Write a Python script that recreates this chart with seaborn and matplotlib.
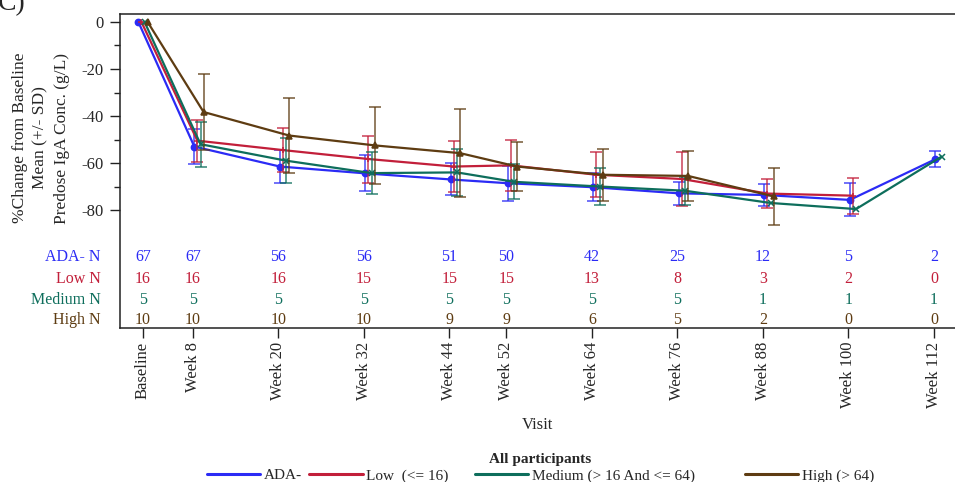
import numpy as np
import pandas as pd
import matplotlib
matplotlib.use("Agg")
import matplotlib.pyplot as plt
import matplotlib.transforms as mtransforms
from matplotlib.lines import Line2D
import seaborn as sns

# visits (nominal study week used for the x scale, Baseline = Day 1)
visits = ['Baseline', 'Week 8', 'Week 20', 'Week 32', 'Week 44', 'Week 52',
          'Week 64', 'Week 76', 'Week 88', 'Week 100', 'Week 112']
visit_week = [1, 8, 20, 32, 44, 52, 64, 76, 88, 100, 112]

groups = ['ADA-', 'Low', 'Medium', 'High']
legend_labels = ['ADA-', 'Low  (<= 16)', 'Medium (> 16 And <= 64)', 'High (> 64)']
n_labels = ['ADA- N', 'Low N', 'Medium N', 'High N']

# mean % change from baseline
ada_mean = [0, -53, -61.5, -64.4, -67, -68.6, -70.3, -72.9, -73.6, -75.7, -58.4]
low_mean = [0, -50.5, -54.5, -58.3, -61.5, -61, -65, -66.8, -73, -73.9, np.nan]
med_mean = [0, -52, -59, -64.3, -64, -68, -70, -71.8, -77, -79.6, -57.3]
high_mean = [0, -38.3, -48.3, -52.5, -55.8, -61.5, -65, -65.5, -74.2, np.nan, np.nan]

# SD (not shown at baseline or where N < 2)
ada_sd = [np.nan, 7.5, 7, 7.7, 6.8, 7.4, 6, 5, 4.6, 7, 3.5]
low_sd = [np.nan, 9, 9.5, 10, 11, 11, 9.5, 11.4, 6.3, 7.6, np.nan]
med_sd = [np.nan, 9.5, 9.5, 9, 10, 7.5, 8, 6, np.nan, np.nan, np.nan]
high_sd = [np.nan, 16.3, 16, 16.3, 18.7, 10.5, 11, 10.7, 12.2, np.nan, np.nan]

# number of participants
ada_n = [67, 67, 56, 56, 51, 50, 42, 25, 12, 5, 2]
low_n = [16, 16, 16, 15, 15, 15, 13, 8, 3, 2, 0]
med_n = [5, 5, 5, 5, 5, 5, 5, 5, 1, 1, 1]
high_n = [10, 10, 10, 10, 9, 9, 6, 5, 2, 0, 0]

means = [ada_mean, low_mean, med_mean, high_mean]
sds = [ada_sd, low_sd, med_sd, high_sd]
ns = [ada_n, low_n, med_n, high_n]

colors = ['#2b2bf5', '#c21f3a', '#0e6e5c', '#5e3c12']
markers = ['o', '+', 'x', '^']
dodge = [-0.65, -0.22, 0.22, 0.65]
# extra gap after each legend entry (the original uses fixed column widths)
legend_pad = [0, 5, 11, 0]

sns.set_style('ticks')
plt.rcParams['font.family'] = ['Liberation Serif', 'DejaVu Serif']

fig = plt.figure(figsize=(9.55, 4.82), dpi=100)
ax = fig.add_axes([120 / 955, 1 - 328 / 482, 835 / 955, 314 / 482])

# long table for seaborn
rows = []
weeks = np.array(visit_week, dtype=float)
for g, m, s, d in zip(groups, means, sds, dodge):
    xpos = np.where(weeks == weeks[0], weeks, weeks + 0.85) + d
    for v, x, mv, sv in zip(visits, xpos, m, s):
        rows.append({'group': g, 'visit': v, 'x': x, 'mean': mv, 'sd': sv})
df = pd.DataFrame(rows).dropna(subset=['mean'])

for g, c, mk in zip(groups, colors, markers):
    sub = df[df['group'] == g]
    sns.lineplot(data=sub, x='x', y='mean', color=c, marker=mk,
                 estimator=None, linewidth=1.6, markersize=4.5,
                 markeredgewidth=1.1, markeredgecolor=c, ax=ax)
    se = sub[sub['sd'].notna()]
    ax.errorbar(se['x'], se['mean'], yerr=se['sd'], fmt='none',
                ecolor=c, elinewidth=1.1, capsize=4, capthick=1.1, alpha=0.85)

ax.set_xlim(-2.23, 114.96)
ax.set_ylim(-130.2, 3.4)
ax.set_xticks(visit_week)
ax.set_xticklabels(visits, rotation=90, fontsize=12)
ax.set_yticks([0, -20, -40, -60, -80])
ax.set_yticklabels(['0', '-20', '-40', '-60', '-80'], fontsize=12)
ax.set_yticks([-10, -30, -50, -70], minor=True)
ax.tick_params(axis='y', which='major', length=7, width=1, pad=5, color='#222222')
ax.tick_params(axis='y', which='minor', length=4, width=1, color='#222222')
ax.tick_params(axis='x', length=7, width=1, pad=3, color='#222222')

for side in ['left', 'bottom', 'top']:
    ax.spines[side].set_color('#222222')
    ax.spines[side].set_linewidth(1.1)
ax.spines['right'].set_visible(False)

ax.set_ylabel('%Change from Baseline\nMean (+/- SD)\nPredose IgA Conc. (g/L)',
              fontsize=12.5, linespacing=1.42, va='center')
ax.yaxis.set_label_coords(-0.095, 0.605)
ax.set_xlabel('Visit', fontsize=12, va='center')
ax.xaxis.set_label_coords(0.5, -0.309)

# N table inside the bottom of the axes
trans = mtransforms.blended_transform_factory(ax.transData, ax.transAxes)
row_y = [0.226, 0.156, 0.089, 0.025]
for lab, nvals, c, yy in zip(n_labels, ns, colors, row_y):
    ax.text(-0.023, yy, lab, transform=ax.transAxes, ha='right', va='center',
            fontsize=11.5, color=c)
    for w, nv in zip(visit_week, nvals):
        ax.text(w, yy, str(nv), transform=trans, ha='center', va='center',
                fontsize=11.5, color=c)

handles = [Line2D([], [], color=c, linewidth=2.2) for c in colors]
labels = [lab + ' ' * p for lab, p in zip(legend_labels, legend_pad)]
leg = fig.legend(handles, labels, loc='upper center',
                 bbox_to_anchor=(0.566, 1 - 445 / 482), ncol=4, frameon=False,
                 fontsize=11, handlelength=3.5, columnspacing=0.45,
                 handletextpad=0.25, title='All participants',
                 title_fontproperties={'weight': 'bold', 'size': 11,
                                       'family': 'Liberation Serif'},
                 borderpad=0, labelspacing=0.2)

fig.text(-0.002, 1 - 10 / 482, 'C)', fontsize=20, va='baseline', ha='left')

fig.savefig('out.png', dpi=100)
